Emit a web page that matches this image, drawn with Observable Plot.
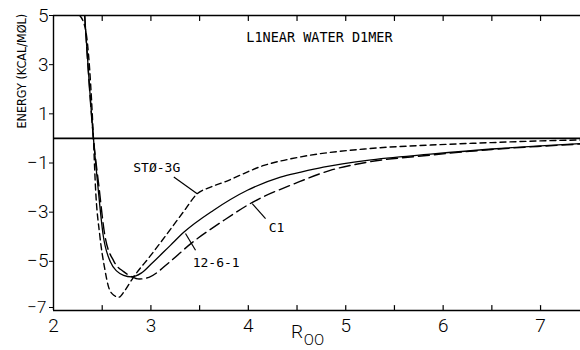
<!DOCTYPE html>
<html><head><meta charset="utf-8">
<script src="https://cdn.jsdelivr.net/npm/d3@7"></script>
<script src="https://cdn.jsdelivr.net/npm/@observablehq/plot@0.6"></script>
<style>body{margin:0;background:#fff}</style>
</head><body><div id="chart"></div>
<script>
// Series: R_OO (Å) and energy (kcal/mol)
const stoR = [2.27, 2.33, 2.41, 2.43, 2.475, 2.525, 2.57, 2.62, 2.67, 2.73, 2.82, 3.0, 3.2, 3.35, 3.475, 3.6, 3.75, 4.16, 4.54, 5.22, 5.87, 6.5, 7.0, 7.45];
const stoE = [5, 4.4, 0, -1.91, -3.94, -5.28, -6.1, -6.38, -6.46, -6.2, -5.65, -4.75, -3.7, -2.9, -2.25, -2.0, -1.78, -1.10, -0.75, -0.42, -0.27, -0.17, -0.1, -0.06];

const ciR = [2.32, 2.41, 2.465, 2.527, 2.62, 2.72, 2.8, 2.88, 2.98, 3.2, 3.41, 3.75, 4.02, 4.5, 4.84, 5.22, 5.87, 6.5, 7.0, 7.45];
const ciE = [5, 0, -1.91, -3.94, -5.0, -5.42, -5.62, -5.72, -5.65, -5.0, -4.28, -3.33, -2.65, -1.8, -1.3, -0.97, -0.68, -0.45, -0.32, -0.22];

const ljR = [2.32, 2.41, 2.455, 2.51, 2.585, 2.65, 2.72, 2.80, 2.9, 3.0, 3.2, 3.34, 3.64, 3.99, 4.33, 4.54, 4.77, 5.22, 5.87, 6.5, 7.0, 7.45];
const ljE = [5, 0, -1.91, -3.94, -5.03, -5.4, -5.57, -5.63, -5.48, -5.12, -4.35, -3.81, -2.93, -2.11, -1.57, -1.37, -1.17, -0.89, -0.64, -0.43, -0.3, -0.2];

const seriesNames = ["STØ-3G", "C1", "12-6-1"];
const xTickValues = [2, 3, 4, 5, 6, 7];
const xMinorTicks = [2.5, 3, 3.5, 4, 4.5, 5, 5.5, 6, 6.5, 7];
const yTickValues = [5, 3, 1, -1, -3, -5];
const yBottomTick = [-7];

// annotation labels (data units)
const labelR = [3.06, 4.29, 3.67];
const labelE = [-1.18, -3.62, -5.08];
const pointerR1 = [3.235, 4.177, 3.458];
const pointerE1 = [-1.57, -3.26, -4.55];
const pointerR2 = [3.475, 4.04, 3.355];
const pointerE2 = [-2.25, -2.65, -3.87];

const titleText = "L1NEAR WATER D1MER";
const titleR = 4.73, titleE = 4.1;
const yLabelText = "ENERGY (KCAL/MØL)";
const yLabelE = 0.4;

const rows = [
  ...stoR.map((r, i) => ({series: seriesNames[0], R: r, E: stoE[i]})),
  ...ciR.map((r, i) => ({series: seriesNames[1], R: r, E: ciE[i]})),
  ...ljR.map((r, i) => ({series: seriesNames[2], R: r, E: ljE[i]}))
];

const tickUp = {draw(ctx, l) { ctx.moveTo(0, 0); ctx.lineTo(0, -l); }};
const mono = "DejaVu Sans Mono";
const fmt = d3.format("d");

const chart = Plot.plot({
  width: 580, height: 350,
  marginLeft: 53, marginRight: 0, marginTop: 15, marginBottom: 40,
  x: {domain: [2, 7.41]},
  y: {domain: [-7, 5]},
  style: {fontFamily: "Roboto, Liberation Sans, sans-serif", background: "white", color: "black", overflow: "visible"},
  marks: [
    Plot.ruleY([5], {strokeWidth: 1.5}),
    Plot.ruleY([-7], {strokeWidth: 1.4}),
    Plot.ruleX([2], {strokeWidth: 1.4}),
    Plot.ruleY([0], {strokeWidth: 1.8}),
    Plot.vector(xMinorTicks, {x: d => d, y: -7, length: 5, anchor: "start", shape: tickUp, strokeWidth: 1.2}),
    Plot.vector(xMinorTicks, {x: d => d, y: 5, length: 5, rotate: 180, anchor: "start", shape: tickUp, strokeWidth: 1.2}),
    Plot.axisX({ticks: xTickValues, tickSize: 0, tickPadding: 8, fontSize: 19, fontWeight: 300, tickFormat: fmt, label: null}),
    Plot.axisY({ticks: yTickValues, tickSize: 4, tickPadding: 1, fontSize: 19, fontWeight: 300, tickFormat: fmt, label: null}),
    Plot.axisY({ticks: yBottomTick, tickSize: 4, tickPadding: 3, fontSize: 17, fontWeight: 300, tickFormat: fmt, dy: -3, label: null}),
    Plot.line(rows.filter(d => d.series === seriesNames[2]), {x: "R", y: "E", stroke: "black", strokeWidth: 1.3, curve: "monotone-x", clip: true}),
    Plot.line(rows.filter(d => d.series === seriesNames[1]), {x: "R", y: "E", stroke: "black", strokeWidth: 1.4, strokeDasharray: "11,5", curve: "monotone-x", clip: true}),
    Plot.line(rows.filter(d => d.series === seriesNames[0]), {x: "R", y: "E", stroke: "black", strokeWidth: 1.4, strokeDasharray: "6,4", curve: "monotone-x", clip: true}),
    Plot.link(seriesNames, {x1: (d, i) => pointerR1[i], y1: (d, i) => pointerE1[i], x2: (d, i) => pointerR2[i], y2: (d, i) => pointerE2[i], stroke: "black", strokeWidth: 1.2}),
    Plot.text(seriesNames, {x: (d, i) => labelR[i], y: (d, i) => labelE[i], text: d => d, fontSize: 13, fontFamily: mono}),
    Plot.text([titleText], {x: titleR, y: titleE, text: d => d, fontSize: 13.5, fontFamily: mono}),
    Plot.text([yLabelText], {frameAnchor: "left", y: yLabelE, text: d => d, rotate: -90, dx: -32, fontSize: 12.5, fontFamily: "DejaVu Sans Condensed, Liberation Sans, sans-serif"}),
    Plot.text(["R"], {frameAnchor: "bottom", text: d => d, dx: -20, dy: 27, fontSize: 19, fontWeight: 300}),
    Plot.text(["OO"], {frameAnchor: "bottom", text: d => d, dx: -3, dy: 34, fontSize: 15, fontWeight: 300})
  ]
});
document.getElementById("chart").appendChild(chart);
</script>
</body></html>
